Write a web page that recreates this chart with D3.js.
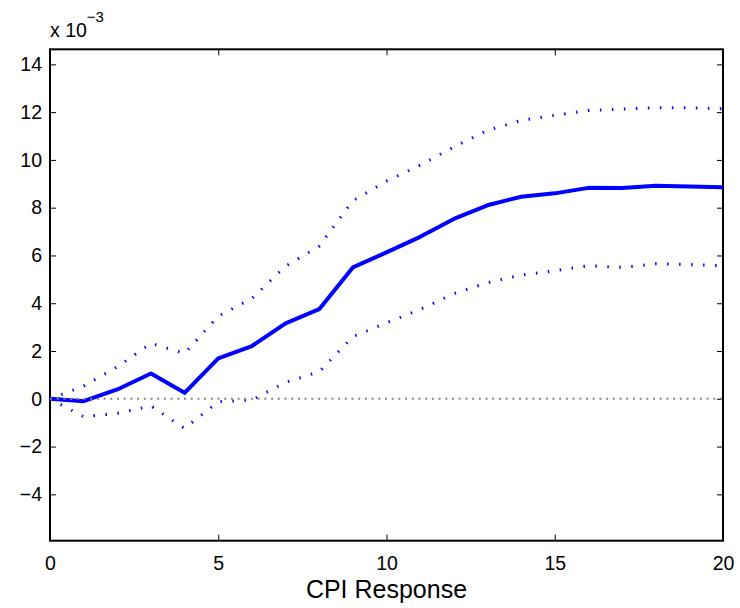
<!DOCTYPE html>
<html>
<head>
<meta charset="utf-8">
<script src="https://cdn.jsdelivr.net/npm/d3@7"></script>
<style>
  html, body { margin: 0; padding: 0; background: #fff; }
  svg text { font-family: "Liberation Sans", Arial, Helvetica, sans-serif; fill: #000; }
</style>
</head>
<body>
<svg id="chart" width="740" height="608"></svg>
<script>
// Horizon (periods)
const horizons = d3.range(0, 21);
// CPI impulse response (x 10^-3)
const response = [0, -0.1, 0.39, 1.06, 0.25, 1.69, 2.21, 3.16, 3.75, 5.5, 6.13, 6.78, 7.53, 8.1, 8.46, 8.6, 8.83, 8.82, 8.92, 8.89, 8.86];
// Upper confidence band
const upperBand = [0, 0.53, 1.34, 2.32, 1.9, 3.46, 4.2, 5.55, 6.39, 8.29, 9.11, 9.78, 10.54, 11.24, 11.65, 11.87, 12.07, 12.13, 12.18, 12.18, 12.14];
// Lower confidence band
const lowerBand = [0, -0.75, -0.61, -0.3, -1.24, -0.12, -0.05, 0.69, 1.13, 2.6, 3.18, 3.74, 4.4, 4.86, 5.18, 5.36, 5.57, 5.5, 5.65, 5.62, 5.57];
// Tick values
const xTicks = [0, 5, 10, 15, 20];
const yTicks = [-4, -2, 0, 2, 4, 6, 8, 10, 12, 14];
const xLabel = "CPI Response";

const svg = d3.select("#chart");
const pLeft = 50, pRight = 723, pTop = 49.3, pBottom = 540.7;
const x = d3.scaleLinear().domain([0, 20]).range([pLeft, pRight]);
const y = d3.scaleLinear().domain([-5.94, 14.63]).range([pBottom, pTop]);

const fmt = v => v < 0 ? "\u2212" + Math.abs(v) : String(v);

// Axes
const axB = svg.append("g").attr("transform", `translate(0,${pBottom})`)
  .call(d3.axisBottom(x).tickValues(xTicks).tickSizeInner(-6).tickSizeOuter(0).tickPadding(15).tickFormat(fmt));
const axT = svg.append("g").attr("transform", `translate(0,${pTop})`)
  .call(d3.axisTop(x).tickValues(xTicks).tickSizeInner(-6).tickSizeOuter(0).tickFormat(""));
const axL = svg.append("g").attr("transform", `translate(${pLeft},0)`)
  .call(d3.axisLeft(y).tickValues(yTicks).tickSizeInner(-6).tickSizeOuter(0).tickPadding(8).tickFormat(fmt));
const axR = svg.append("g").attr("transform", `translate(${pRight},0)`)
  .call(d3.axisRight(y).tickValues(yTicks).tickSizeInner(-6).tickSizeOuter(0).tickFormat(""));

[axB, axT, axL, axR].forEach(g => {
  g.select(".domain").remove();
  g.selectAll(".tick line").attr("stroke", "#000").attr("stroke-width", 1);
  g.selectAll("text").attr("font-size", 19.5).attr("fill", "#000");
});
axB.selectAll(".tick text").attr("dy", "0.71em");

// Box
svg.append("rect")
  .attr("x", pLeft).attr("y", pTop)
  .attr("width", pRight - pLeft).attr("height", pBottom - pTop)
  .attr("fill", "none").attr("stroke", "#000").attr("stroke-width", 2);

const line = d3.line().x((d, i) => x(horizons[i])).y(d => y(d));

// Confidence bands
svg.append("path").datum(upperBand).attr("d", line)
  .attr("fill", "none").attr("stroke", "#0000ff").attr("stroke-width", 3)
  .attr("stroke-dasharray", "1.5,10.5");
svg.append("path").datum(lowerBand).attr("d", line)
  .attr("fill", "none").attr("stroke", "#0000ff").attr("stroke-width", 3)
  .attr("stroke-dasharray", "1.5,10.5");

// Response
svg.append("path").datum(response).attr("d", line)
  .attr("fill", "none").attr("stroke", "#0000ff").attr("stroke-width", 4)
  .attr("stroke-linejoin", "round");

// Zero line
svg.append("line")
  .attr("x1", x(0)).attr("x2", x(20)).attr("y1", y(0)).attr("y2", y(0))
  .attr("stroke", "#888").attr("stroke-width", 2).attr("stroke-dasharray", "2,4.7");

// Exponent label
const ex = svg.append("text").attr("x", 50).attr("y", 37).attr("font-size", 19.5);
ex.append("tspan").text("x 10");
ex.append("tspan").attr("dy", -15).attr("font-size", 15).text("\u22123");

// X label
svg.append("text").attr("x", (pLeft + pRight) / 2).attr("y", 598)
  .attr("text-anchor", "middle").attr("font-size", 25).text(xLabel);
</script>
</body>
</html>
